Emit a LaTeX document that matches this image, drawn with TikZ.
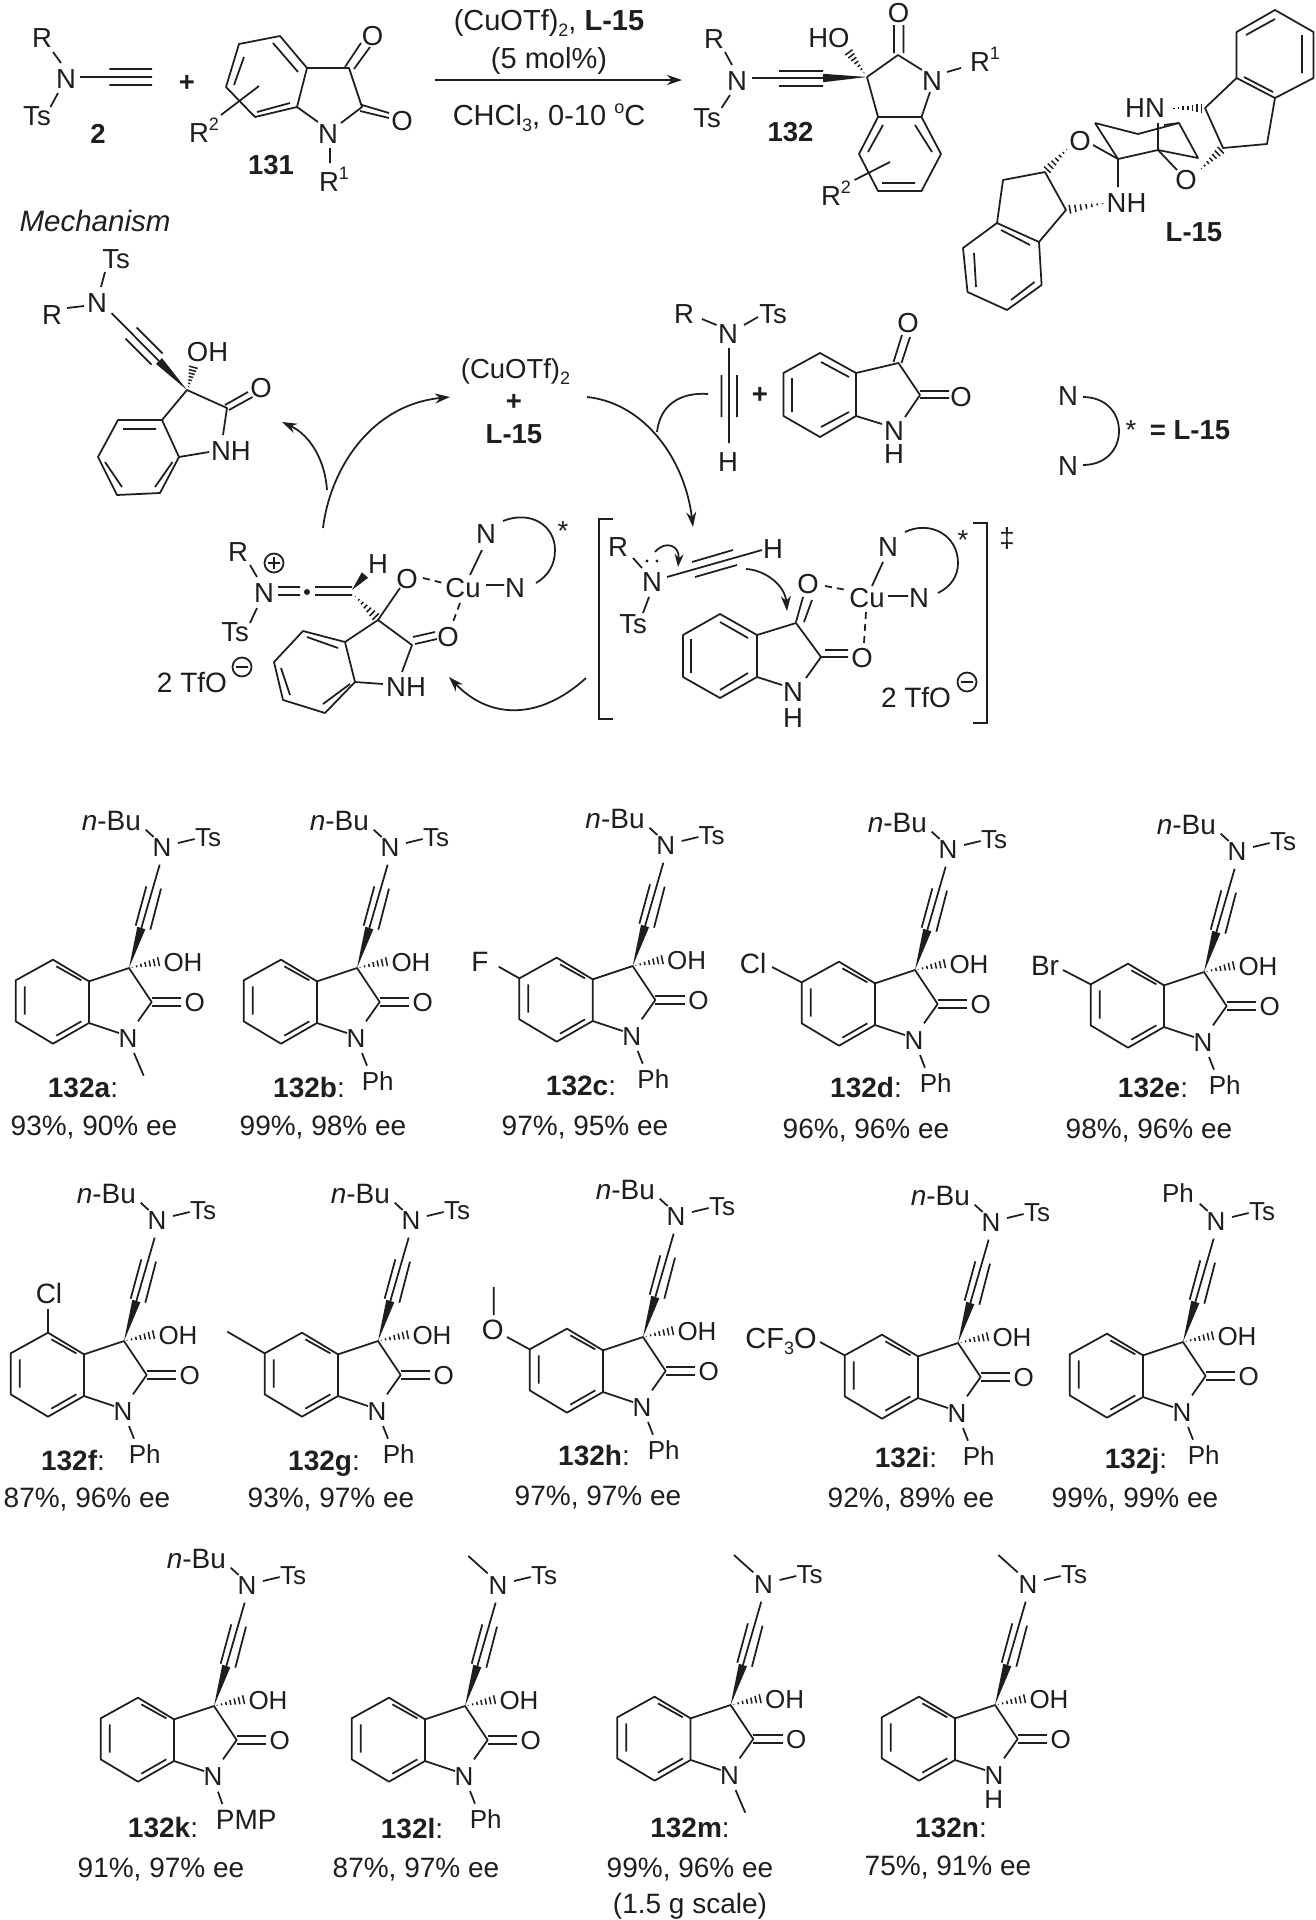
\documentclass[tikz,border=0pt]{standalone}
\usepackage{fontspec}
\setmainfont{Liberation Sans}
\usetikzlibrary{arrows.meta,calc}
\definecolor{ink}{HTML}{1E1E1E}
\tikzset{
  bond/.style={line width=1.75pt,draw=ink,line join=round},
  dbond/.style={bond,dash pattern=on 7pt off 5pt},
  lab/.style={inner sep=0pt,outer sep=0pt,text=ink,font=\fontsize{27.5}{27.5}\selectfont,text height=20pt,text depth=0pt},
  labc/.style={inner sep=0pt,outer sep=0pt,text=ink,font=\fontsize{29}{29}\selectfont,text height=21pt,text depth=0pt},
  labp/.style={inner sep=0pt,outer sep=0pt,text=ink,font=\fontsize{26}{26}\selectfont,text height=19pt,text depth=0pt},
  labq/.style={inner sep=0pt,outer sep=0pt,text=ink,font=\fontsize{28}{28}\selectfont,text height=20pt,text depth=0pt},
  captxt/.style={inner sep=0pt,outer sep=0pt,text=ink,font=\fontsize{28}{28}\selectfont,text height=20pt,text depth=0pt},
  curve/.style={line width=1.75pt,draw=ink,-{Stealth[length=15pt,width=10pt]}},
  plain/.style={line width=1.75pt,draw=ink}
}
\newcommand{\spp}[1]{\raisebox{.42em}{\fontsize{18}{18}\selectfont #1}}
\newcommand{\sbb}[1]{\raisebox{-.22em}{\fontsize{18}{18}\selectfont #1}}
\newcommand{\hashb}[2]{\foreach \t [evaluate=\t as \d using \t*5] in {0.06,0.2,0.34,0.48,0.62,0.76,0.9}{\draw[line width=1.5pt,draw=ink] ($#1!\t!#2!\d pt!90:#2$) -- ($#1!\t!#2!\d pt!-90:#2$);}}
\newcommand{\wedgeb}[2]{\fill[ink] #1 -- ($#2!4.2pt!90:#1$) -- ($#2!4.2pt!-90:#1$) -- cycle;}
\newcommand{\mol}[4]{\begin{scope}[shift={(#2,#3)},x=.33333pt,y=-.33333pt,name prefix=#1-]
  \draw[bond] (-120,40) -- (-228,-25) -- (-340,37) -- (-340,160) -- (-228,227) -- (-120,165) -- cycle;
  \draw[bond] (-313,55) -- (-313,140) (-218,-5) -- (-143,37) (-218,203) -- (-143,160);
  \draw[bond] (-120,40) -- (0,0) -- (68,102) -- (27,160) (-120,165) -- (-30,195);
  \draw[bond] (68,90) -- (157,90) (68,115) -- (157,115);
  \draw[bond] (37,-120) -- (92,-310) (20,-127) -- (52,-245) (64,-115) -- (96,-238);
  \wedgeb{(0,0)}{(37,-120)}
  \hashb{(4,-1)}{(98,-21)}
  \draw[bond] (147,-375) -- (197,-387);
  \node[labp] (NI) at (-3,210) {N};
  \node[labp] (O) at (197,102) {O};
  \node[labp] (OH) at (162,-18) {OH};
  \node[labp] (NA) at (99,-363) {N};
  \node[labp] (Ts) at (237,-393) {Ts};
  #4
\end{scope}}
\newcommand{\nBu}{\draw[bond] (50,-415) -- (74,-393); \node[labq] (nBu) at (-53,-443) {\textit{n}-Bu};}
\newcommand{\PhA}{\draw[bond] (50,-415) -- (74,-393); \node[labp] (PhA) at (-15,-447) {Ph};}
\newcommand{\MeA}{\draw[bond] (10,-450) -- (68,-398);}
\newcommand{\NPh}{\draw[bond] (15,255) -- (30,293); \node[labp] (PhN) at (62,340) {Ph};}
\newcommand{\NMe}{\draw[bond] (15,255) -- (44,323);}
\begin{document}
\begin{tikzpicture}[x=1pt,y=-1pt]
\useasboundingbox (0,0) rectangle (1316,1920);
\fill[white] (0,0) rectangle (1316,1920);

% ---- reagent 2
\node[lab] (r2R) at (42,37) {R};
\node[lab] (r2N) at (66,78) {N};
\node[lab] (r2Ts) at (37,115) {Ts};
\draw[bond] (53,52) -- (61,63) (58,93) -- (50.5,107) (80,77) -- (152,77) (109.4,69) -- (152,69) (109.4,85) -- (152,85);
\node[lab] (r2l) at (98,133) {\bfseries 2};
\node[lab] (plus1) at (187,81) {\bfseries +};
% ---- 131
\draw[bond] (280,36) -- (239,44) -- (226,87) -- (255,117) -- (297,107) -- (307,68) -- cycle;
\draw[bond] (244,57) -- (234,85) (273,43) -- (298,72) (257,112) -- (290,103);
\draw[bond] (307,68) -- (349,68) -- (362,107) -- (341,123) (297,107) -- (318,122);
\draw[bond] (345,67) -- (361,43) (354,69) -- (370,47) (362,105) -- (389,113) (360,111) -- (389,118);
\draw[bond] (330,148) -- (330,163) (221,115) -- (259,86);
\node[lab] (o1) at (372.5,35) {O};
\node[lab] (o2) at (402,120) {O};
\node[lab] (n131) at (328,133) {N};
\node[lab,anchor=center] (r1) at (334,181) {R\spp{1}};
\node[lab] (r22) at (204,132) {R\spp{2}};
\node[lab] (l131) at (271,164) {\bfseries 131};
% ---- conditions
\node[labc] (c1) at (549,20) {(CuOTf)\sbb{2}, \textbf{L-15}};
\node[labc] (c2) at (549,58) {(5 mol\%)};
\node[labc] (c3) at (549,115) {CHCl\sbb{3}, 0-10 \spp{o}C};
\coordinate (arA) at (435,80); \coordinate (arB) at (682,80);
\draw[curve] (arA) -- (arB);
% ---- 132
\node[lab] (pR) at (714,38) {R};
\node[lab] (pN) at (737,80) {N};
\node[lab] (pTs) at (707,117) {Ts};
\node[lab] (pHO) at (829,37) {HO};
\node[lab] (pO) at (898.5,12) {O};
\node[lab] (pN2) at (932,80) {N};
\node[lab] (pR1) at (985,61) {R\spp{1}};
\node[lab] (pR2) at (836,195) {R\spp{2}};
\node[lab] (pl) at (790.5,131) {\bfseries 132};
\draw[bond] (725,52) -- (732,65) (730,95) -- (721.5,108) (752,78) -- (823,78) (779,71) -- (823,71) (779,86) -- (823,86);
\wedgeb{(867,77)}{(823,78)}
\hashb{(865,74)}{(847,50)}
\draw[bond] (867,77) -- (898,55) -- (922,70) (894,53) -- (894,25) (903.5,53) -- (903.5,25) (947,72) -- (961,68);
\draw[bond] (867,77) -- (878,117) (930,92) -- (921.5,117);
\draw[bond] (878,117) -- (859,154) -- (878,191) -- (921.5,191) -- (941,154) -- (921.5,117) -- cycle;
\draw[bond] (883,125) -- (868,152) (915,125) -- (932,152) (882,183) -- (915,183) (854.5,180) -- (890,162);
% ---- L-15
\draw[bond] (1275,10) -- (1313.5,32) -- (1313.5,78) -- (1275,98) -- (1236.6,78) -- (1236.6,32) -- cycle;
\draw[bond] (1275,19) -- (1246,35) (1302,35) -- (1302,73) (1244,77) -- (1273,92);
\draw[bond] (1236.6,78) -- (1205,108) -- (1223,148) -- (1267,144) -- (1275,98);
\hashb{(1172,108)}{(1205,108)}
\hashb{(1200,170)}{(1223,148)}
\node[lab] (LHN) at (1145,107) {HN};
\node[lab] (LO1) at (1186,179) {O};
\node[lab] (LO2) at (1080,140) {O};
\node[lab] (LNH) at (1126.5,202) {NH};
\node[lab] (Ll) at (1194,231) {\bfseries L-15};
\draw[bond] (1095,123) -- (1138,134) -- (1179,123) -- (1198,158) -- (1158,150) -- (1118,159) -- (1095,123);
\draw[bond] (1158,150) -- (1158,123) (1164,125) -- (1179,123) (1158,150) -- (1177,170) (1093,145) -- (1118,159) -- (1118,187);
\hashb{(1105,203)}{(1066,210)}
\hashb{(1068,148)}{(1045,172)}
\draw[bond] (1045,172) -- (1003,180) -- (997,223) -- (1039,242) -- (1066,210) -- (1045,172);
\draw[bond] (997,223) -- (963,248) -- (967.5,292) -- (1007,310) -- (1041.6,285) -- (1039,242);
\draw[bond] (1001,230) -- (1030,245) (974,253) -- (976,287) (1011,300) -- (1034.5,282);
% ---- Mechanism
\node[captxt,font=\fontsize{29.5}{29.5}\selectfont\itshape] (mech) at (95,221) {Mechanism};
\node[lab] (mTs) at (116,258) {Ts};
\node[lab] (mN) at (97,302) {N};
\node[lab] (mR) at (52,314) {R};
\node[lab] (mOH) at (207.5,351) {OH};
\node[lab] (mO) at (261,387) {O};
\node[lab] (mNH) at (231,450) {NH};
\draw[bond] (105,272) -- (101,287) (67,308) -- (84,306) (111.5,313) -- (159,361) (136.6,327.4) -- (162.6,353.4) (125.4,338.6) -- (151.4,364.6);
\wedgeb{(187,390)}{(159,361)}
\hashb{(188,388)}{(194,365)}
\draw[bond] (187,390) -- (227,408) -- (223,435) (225,405) -- (248,392) (229,410) -- (252.5,397) (187,390) -- (162,420);
\draw[bond] (162,420) -- (118,420) -- (98,457) -- (117,495) -- (160,493) -- (179,457) -- cycle;
\draw[bond] (179,457) -- (209,452) (123,429) -- (156,429) (105,462) -- (122,487) (155,487) -- (172.5,462);
\node[lab] (cat) at (515.5,368) {(CuOTf)\sbb{2}};
\node[lab] (catp) at (514,400) {\bfseries +};
\node[lab] (catl) at (514,433) {\bfseries L-15};
% cycle arrows
\draw[curve] (323,528) .. controls (330,470) and (370,405) .. (450,397);
\draw[curve] (327,490) .. controls (325,460) and (310,435) .. (282,422);
\draw[curve] (587,397) .. controls (645,403) and (685,460) .. (693,527);
\draw[plain] (708,394) .. controls (680,392) and (660,405) .. (657,432);
\draw[curve] (586,678) .. controls (540,720) and (490,720) .. (449,677);
% ---- ynamide + isatin
\node[lab] (yR) at (684,313) {R};
\node[lab] (yN) at (728,333) {N};
\node[lab] (yTs) at (773,313) {Ts};
\node[lab] (yH) at (728,461) {H};
\node[lab] (yp) at (760,393) {\bfseries +};
\draw[bond] (702,319) -- (716.5,325) (744,325) -- (758,317) (729,348) -- (729,443) (721.5,375) -- (721.5,417) (737,375) -- (737,417);
\draw[bond] (820,353) -- (783.5,373) -- (783.5,416) -- (820,437) -- (856,416) -- (856,373) -- cycle;
\draw[bond] (821,362) -- (849,377) (792,378) -- (792,412) (821,427) -- (849,412);
\draw[bond] (856,373) -- (898.5,363) -- (920,395) -- (905,417) (856,416) -- (882,424);
\draw[bond] (893.5,362) -- (902,335) (901.5,363) -- (910,337) (920,391) -- (949,391) (920,398) -- (949,398);
\node[lab] (iO1) at (908,322) {O};
\node[lab] (iO2) at (961,396) {O};
\node[lab] (iN) at (894,430) {N};
\node[lab] (iH) at (894,453) {H};
% ---- ligand legend
\node[lab] (lgN1) at (1068,395) {N};
\node[lab] (lgN2) at (1068,465) {N};
\draw[plain] (1083,397) .. controls (1105,397) and (1119,412) .. (1119,431) .. controls (1119,450) and (1105,465) .. (1083,465);
\node[lab] (lgS) at (1131,429) {*};
\node[lab] (lgE) at (1190,429) {\bfseries = L-15};
% ---- intermediate (left)
\node[lab] (aR) at (238,551) {R};
\node[lab] (aN) at (264,592) {N};
\node[lab] (aTs) at (235,631) {Ts};
\node[lab] (aH) at (378,563) {H};
\node[lab] (aO) at (407,578) {O};
\node[lab] (aCu) at (463,587) {Cu};
\node[lab] (aN1) at (486,533) {N};
\node[lab] (aN2) at (515,587) {N};
\node[lab] (aS) at (563,530) {*};
\node[lab] (aO2) at (448,636) {O};
\node[lab] (aNH) at (406,686) {NH};
\node[captxt,anchor=east] (aTf) at (227,682) {2 TfO};
\draw[bond] (274,563) circle (9.5) (268,563) -- (280,563) (274,557) -- (274,569);
\draw[bond] (242,667) circle (9.5) (236,667) -- (248,667);
\draw[bond] (250,565) -- (257,577) (257,608) -- (250,623) (278,587) -- (300,587) (278,595) -- (300,595) (315,587) -- (352,587) (315,595) -- (352,595);
\fill[ink] (307,592) circle (3);
\wedgeb{(352,590)}{(365,575)}
\hashb{(354,595)}{(378,619)}
\draw[bond] (378,620) -- (400,588) (378,620) -- (412,645) -- (402,672) (413,637) -- (435,632) (415,644) -- (437,639) (378,620) -- (345,642);
\draw[dbond] (423,578) -- (443,583) (460,603) -- (453,622);
\draw[bond] (470,575) -- (482,550) (486,585) -- (504,585);
\draw[plain] (503,521) .. controls (530,510) and (555,525) .. (555,550) .. controls (555,565) and (548,576) .. (536,583);
\draw[bond] (345,642) -- (303,631) -- (274,662) -- (283,700) -- (325,713) -- (355,682) -- cycle;
\draw[bond] (355,682) -- (383,684) (307,637) -- (338,648) (281,668) -- (290,695) (323,704) -- (350,684);
% ---- TS (bracketed)
\draw[line width=1.9pt,draw=ink] (613,519) -- (599,519) -- (599,719) -- (613,719);
\draw[line width=1.9pt,draw=ink] (973,523) -- (987,523) -- (987,723) -- (973,723);
\node[lab] (dg) at (1007,537) {‡};
\node[lab] (tR) at (618,546) {R};
\node[lab] (tN) at (652,581) {N};
\node[lab] (tTs) at (633,623) {Ts};
\node[lab] (tH) at (773,548) {H};
\node[lab] (tO1) at (808,583) {O};
\node[lab] (tCu) at (867,597) {Cu};
\node[lab] (tN1) at (888,546) {N};
\node[lab] (tN2) at (919,597) {N};
\node[lab] (tS) at (963,539) {*};
\node[lab] (tO2) at (862,657) {O};
\node[lab] (tN3) at (793,691) {N};
\node[lab] (tH3) at (793,717) {H};
\node[captxt] (tTf) at (916,697) {2 TfO};
\draw[bond] (967,682) circle (9.5) (961,682) -- (973,682);
\draw[bond] (633,558) -- (642,568) (649,597) -- (643,613) (667,577) -- (762,550) (692,562) -- (733,550) (695,577) -- (737,565);
\fill[ink] (647,561) circle (1.6) (657,561) circle (1.6);
\draw[line width=1.75pt,draw=ink,-{Stealth[length=13pt,width=9pt]}] (655,552) .. controls (665,540) and (680,545) .. (678,567);
\draw[curve] (746,569) .. controls (765,570) and (785,585) .. (787,611);
\draw[dbond] (825,586) -- (847,590) (866,612) -- (864,643);
\draw[bond] (872,586) -- (883,562) (888,596) -- (908,596);
\draw[plain] (905,532) .. controls (930,520) and (958,535) .. (958,563) .. controls (958,577) and (950,587) .. (938,593);
\draw[bond] (825,650) -- (848,650) (821,657) -- (848,657) (796,622) -- (803,597) (804,622) -- (812,600);
\draw[bond] (757,635) -- (720,614) -- (683,635) -- (683,677) -- (720,698) -- (757,677) -- cycle;
\draw[bond] (720,622) -- (748,638) (691,639) -- (691,673) (720,690) -- (748,673);
\draw[bond] (757,635) -- (796,623) -- (821,657) -- (806,678) (757,677) -- (782,685);
% ---- products
\mol{a}{129}{968}{\nBu\NMe}
\mol{b}{357}{968}{\nBu\NPh}
\mol{c}{632.7}{966}{\nBu\NPh\draw[bond] (-340,37) -- (-402,2); \node[labq] (X) at (-458,-15) {F};}
\mol{d}{915}{970}{\nBu\NPh\draw[bond] (-340,37) -- (-429,-9); \node[labq] (X) at (-486,-21) {Cl};}
\mol{e}{1204}{972}{\nBu\NPh\draw[bond] (-340,37) -- (-423,-6); \node[labq] (X) at (-477,-21) {Br};}
\mol{f}{124}{1341}{\nBu\NPh\draw[bond] (-228,-25) -- (-228,-95); \node[labq] (X) at (-225,-144) {Cl};}
\mol{g}{378}{1341}{\nBu\NPh\draw[bond] (-340,37) -- (-452,-28);}
\mol{h}{643}{1337}{\nBu\NPh\draw[bond] (-340,37) -- (-408,0) (-448,-66) -- (-448,-150); \node[labq] (X) at (-451,-24) {O};}
\mol{i}{958}{1343}{\nBu\NPh\draw[bond] (-340,37) -- (-414,-3); \node[labq,font=\fontsize{29}{29}\selectfont] (X) at (-531,-15) {CF\sbb{3}O};}
\mol{j}{1183}{1342}{\PhA\NPh}
\mol{k}{214}{1706}{\nBu\draw[bond] (12,257) -- (25,294); \node[labq] (X) at (97,340) {PMP};}
\mol{l}{465}{1706}{\MeA\NPh}
\mol{m}{730.6}{1705}{\MeA\NMe}
\mol{n}{995}{1705}{\MeA\node[labp] (X) at (-4,283) {H};}
% ---- captions
\node[captxt] (la) at (83,1087) {\textbf{132a}:};
\node[captxt] (ra) at (94,1125) {93\%, 90\% ee};
\node[captxt] (lb) at (309,1087) {\textbf{132b}:};
\node[captxt] (rb) at (323,1125) {99\%, 98\% ee};
\node[captxt] (lc) at (581,1085) {\textbf{132c}:};
\node[captxt] (rc) at (585,1125) {97\%, 95\% ee};
\node[captxt] (ld) at (866,1087) {\textbf{132d}:};
\node[captxt] (rd) at (866,1128) {96\%, 96\% ee};
\node[captxt] (le) at (1153,1087) {\textbf{132e}:};
\node[captxt] (re) at (1149,1128) {98\%, 96\% ee};
\node[captxt] (lf) at (73,1460) {\textbf{132f}:};
\node[captxt] (rf) at (87,1497) {87\%, 96\% ee};
\node[captxt] (lg) at (324,1460) {\textbf{132g}:};
\node[captxt] (rg) at (331,1497) {93\%, 97\% ee};
\node[captxt] (lh) at (594,1455) {\textbf{132h}:};
\node[captxt] (rh) at (598,1495) {97\%, 97\% ee};
\node[captxt] (li) at (906,1457) {\textbf{132i}:};
\node[captxt] (ri) at (911,1497) {92\%, 89\% ee};
\node[captxt] (lj) at (1136,1458) {\textbf{132j}:};
\node[captxt] (rj) at (1135,1497) {99\%, 99\% ee};
\node[captxt] (lk) at (163,1827) {\textbf{132k}:};
\node[captxt] (rk) at (161,1867) {91\%, 97\% ee};
\node[captxt] (ll) at (412,1828) {\textbf{132l}:};
\node[captxt] (rl) at (416,1867) {87\%, 97\% ee};
\node[captxt] (lm) at (690,1827) {\textbf{132m}:};
\node[captxt] (rm) at (690,1867) {99\%, 96\% ee};
\node[captxt] (sm) at (690,1903) {(1.5 g scale)};
\node[captxt] (ln) at (951,1827) {\textbf{132n}:};
\node[captxt] (rn) at (948,1865) {75\%, 91\% ee};
\end{tikzpicture}
\end{document}
